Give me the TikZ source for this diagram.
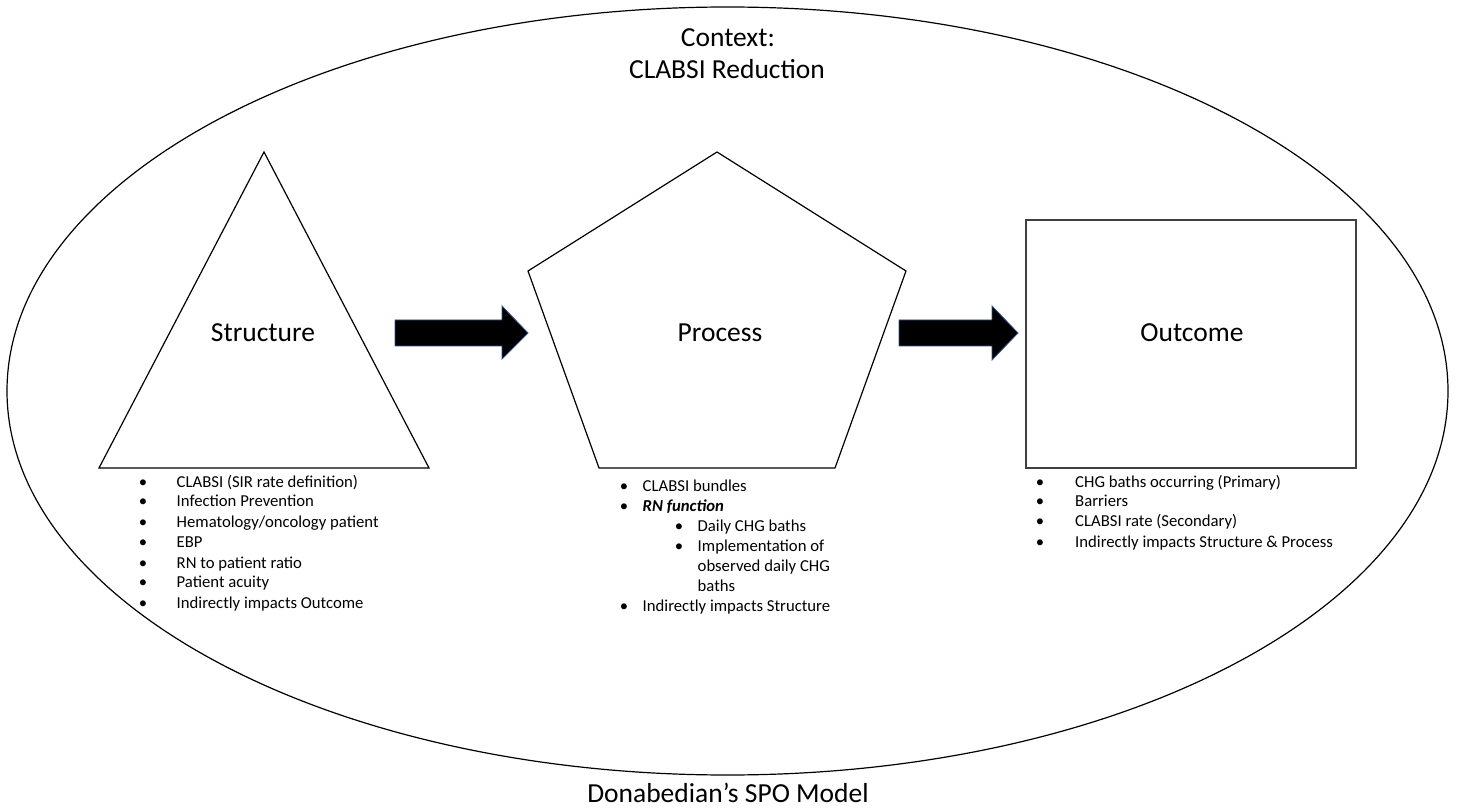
\documentclass[tikz,border=0pt]{standalone}
\usepackage{fontspec}
\setmainfont{Carlito}
\usetikzlibrary{shapes.geometric}
\definecolor{arrowedge}{RGB}{47,82,143}
\begin{document}
\begin{tikzpicture}[x=1pt,y=-1pt,
  shapeline/.style={draw=black,line width=1.2pt,line join=miter},
  boxline/.style={draw=black!75,line width=1.9pt,line join=miter},
  biglabel/.style={font=\fontsize{27.5}{33}\selectfont,inner sep=0pt},
  itemtext/.style={font=\fontsize{16.7}{20}\selectfont,inner sep=0pt,anchor=base west},
  blockarrow/.style={fill=black,draw=arrowedge,line width=0.8pt,line join=miter}]
\useasboundingbox (0,0) rectangle (1457,810);
% context ellipse
\node[shapeline,ellipse,minimum width=1441pt,minimum height=768pt,inner sep=0pt] (ctx) at (727.5,391) {};
\node[biglabel,anchor=base] (ctxa) at (728,47) {Context:};
\node[biglabel,anchor=base] (ctxb) at (727,79) {CLABSI Reduction};
\node[biglabel,anchor=base] (model) at (728,802.5) {Donabedian’s SPO Model};
% shapes
\coordinate (t1) at (264,152); \coordinate (t2) at (429,468); \coordinate (t3) at (99,468);
\draw[shapeline] (t1) -- (t2) -- (t3) -- cycle;
\coordinate (p1) at (717,152); \coordinate (p2) at (906,271); \coordinate (p3) at (835,468);
\coordinate (p4) at (599,468); \coordinate (p5) at (528,271);
\draw[shapeline] (p1) -- (p2) -- (p3) -- (p4) -- (p5) -- cycle;
\node[boxline,rectangle,minimum width=330pt,minimum height=248pt,inner sep=0pt] (outbox) at (1191,344) {};
% labels
\node[biglabel] (struct) at (263,333) {Structure};
\node[biglabel] (proc) at (720,333) {Process};
\node[biglabel] (outc) at (1192,333) {Outcome};
% block arrows
\draw[blockarrow] (395,320) -- (502,320) -- (502,306) -- (528,333) -- (502,359) -- (502,346) -- (395,346) -- cycle;
\draw[blockarrow] (899,320) -- (992,320) -- (992,306) -- (1018,333) -- (992,360) -- (992,346) -- (899,346) -- cycle;
% structure list
\foreach \yy/\t [count=\i] in {481.7/{CLABSI (SIR rate definition)}, 501/{Infection Prevention}, 521.7/{Hematology/oncology patient}, 542.3/{EBP}, 562.7/{RN to patient ratio}, 582/{Patient acuity}, 602.5/{Indirectly impacts Outcome}}
  \node[itemtext] (s\i) at (176.5,\yy+5.5) {\llap{\textbullet\hspace{29.5pt}}\t};
% process list
\node[itemtext] (pa) at (642.5,491) {\llap{\textbullet\hspace{14.5pt}}CLABSI bundles};
\node[itemtext] (pb) at (642.5,511) {\llap{\textbullet\hspace{14.5pt}}\textbf{\textit{RN function}}};
\node[itemtext] (pc) at (697.5,531.5) {\llap{\textbullet\hspace{14.5pt}}Daily CHG baths};
\node[itemtext] (pd) at (697.5,551.5) {\llap{\textbullet\hspace{14.5pt}}Implementation of};
\node[itemtext] (pe) at (697.5,571.5) {observed daily CHG};
\node[itemtext] (pf) at (697.5,591) {baths};
\node[itemtext] (pg) at (642.5,611.5) {\llap{\textbullet\hspace{14.5pt}}Indirectly impacts Structure};
% outcome list
\foreach \yy/\t [count=\i] in {481.7/{CHG baths occurring (Primary)}, 501/{Barriers}, 520.5/{CLABSI rate (Secondary)}, 541.7/{Indirectly impacts Structure \& Process}}
  \node[itemtext] (o\i) at (1075,\yy+5.5) {\llap{\textbullet\hspace{31pt}}\t};
\end{tikzpicture}
\end{document}
